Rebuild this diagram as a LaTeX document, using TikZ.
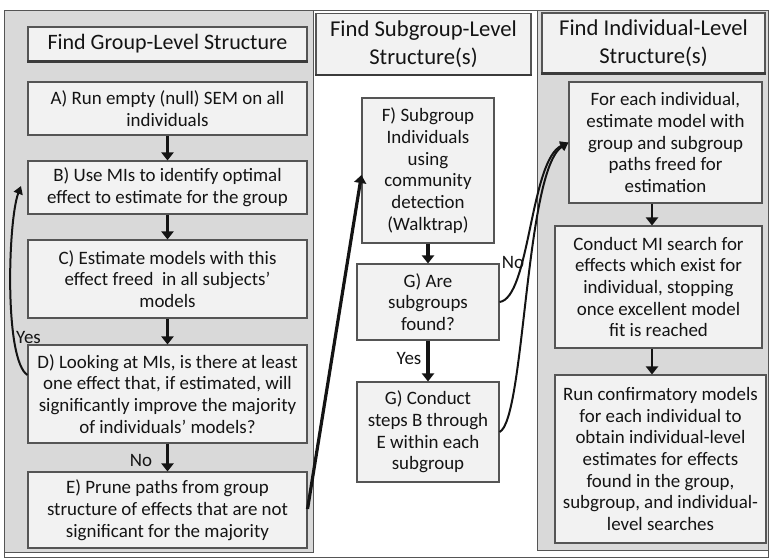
\documentclass[tikz,border=0pt]{standalone}
\usepackage{fontspec}
\setmainfont{Carlito}
\usetikzlibrary{arrows.meta}

\definecolor{panelgray}{RGB}{217,217,217}
\definecolor{boxfill}{RGB}{242,242,242}
\definecolor{boxline}{RGB}{85,85,85}
\definecolor{inkline}{RGB}{20,20,20}

\tikzset{
  stepbox/.style={draw=boxline, fill=boxfill, line width=0.8pt, align=center, inner sep=1pt,
    font=\fontsize{14.2}{16.3}\selectfont, text=inkline},
  titlebox/.style={stepbox, font=\fontsize{17}{21}\selectfont},
  flowarrow/.style={draw=inkline, line width=2.4pt, -{Triangle[width=9pt,length=6pt]}},
  loopline/.style={draw=inkline, line width=1.5pt, -{Triangle[width=7pt,length=6pt]}},
  steplabel/.style={font=\fontsize{14.2}{16}\selectfont, text=inkline, inner sep=1pt}
}

\begin{document}
\begin{tikzpicture}[x=0.75pt,y=0.75pt,yscale=-1,xscale=1]
\useasboundingbox (0,0) rectangle (769,560);

% panels
\draw[boxline, fill=panelgray, line width=0.6pt] (4,10) rectangle (313,552);
\draw[boxline, fill=panelgray, line width=0.6pt] (537,10) rectangle (768,550);
\draw[boxline, line width=0.6pt] (4,10) rectangle (768,557);

% titles
\node[titlebox, font=\fontsize{16.5}{21}\selectfont, minimum width=209.25pt, minimum height=25.5pt] (grouptitle) at (167.5,44) {Find Group-Level Structure};
\node[titlebox, minimum width=161.25pt, minimum height=46pt] (subtitle) at (423.5,44) {Find Subgroup-Level\\Structure(s)};
\node[titlebox, minimum width=167.25pt, minimum height=45pt] (indtitle) at (653.5,43) {Find Individual-Level\\Structure(s)};
\foreach \t in {grouptitle,subtitle,indtitle}
  \draw[boxline!70!black, line width=1.8pt] (\t.south west) -- (\t.south east);

% group-level steps
\node[stepbox, minimum width=209.25pt, minimum height=39.75pt] (stepA) at (167.5,108.5) {A) Run empty (null) SEM on all\\individuals};
\node[stepbox, minimum width=209.25pt, minimum height=39.75pt] (stepB) at (167.5,187.5) {B) Use MIs to identify optimal\\effect to estimate for the group};
\node[stepbox, minimum width=209.25pt, minimum height=58.5pt] (stepC) at (167.5,279) {C) Estimate models with this\\effect freed\ \ in all subjects’\\models};
\node[stepbox, minimum width=209.25pt, minimum height=73.5pt] (stepD) at (167.5,394) {D) Looking at MIs, is there at least\\one effect that, if estimated, will\\significantly improve the majority\\of individuals’ models?};
\node[stepbox, minimum width=209.25pt, minimum height=57pt] (stepE) at (167.5,510) {E) Prune paths from group\\structure of effects that are not\\significant for the majority};

% subgroup-level steps
\node[stepbox, minimum width=99pt, minimum height=108.75pt] (stepF) at (428,170.5) {F) Subgroup\\Individuals\\using\\community\\detection\\(Walktrap)};
\node[stepbox, minimum width=106.5pt, minimum height=57pt] (stepG) at (428,302) {G) Are\\subgroups\\found?};
\node[stepbox, minimum width=106.5pt, minimum height=75pt] (stepGb) at (428,432) {G) Conduct\\steps B through\\E within each\\subgroup};

% individual-level steps
\node[stepbox, minimum width=144.75pt, minimum height=90.75pt] (stepH) at (665.5,142.5) {For each individual,\\estimate model with\\group and subgroup\\paths freed for\\estimation};
\node[stepbox, minimum width=155.25pt, minimum height=91.5pt] (stepI) at (658.5,287) {Conduct MI search for\\effects which exist for\\individual, stopping\\once excellent model\\fit is reached};
\node[stepbox, minimum width=158.25pt, minimum height=126pt] (stepJ) at (660.5,459) {Run confirmatory models\\for each individual to\\obtain individual-level\\estimates for effects\\found in the group,\\subgroup, and individual-\\level searches};

% labels
\node[steplabel] (yesloop) at (28.5,337) {Yes};
\node[steplabel] (nogroup) at (141,460) {No};
\node[steplabel] (yessub) at (409,358) {Yes};
\node[steplabel] (nosub) at (513,262) {No};

% connectors
\draw[flowarrow] (stepA.south) -- (stepB.north);
\draw[flowarrow] (stepB.south) -- (stepC.north);
\draw[flowarrow] (stepC.south) -- (stepD.north);
\draw[flowarrow] (stepD.south) -- (stepE.north);
\draw[flowarrow] (stepF.south) -- (stepG.north);
\draw[flowarrow] (stepG.south) -- (stepGb.north);
\coordinate (rcol) at (652,0);
\draw[flowarrow, line width=1.8pt] (stepH.south -| rcol) -- (stepI.north -| rcol);
\draw[flowarrow, line width=1.8pt] (stepI.south -| rcol) -- (stepJ.north -| rcol);

\coordinate (eout) at (0,509);
\coordinate (fin) at (0,175);
\draw[flowarrow] (stepE.east |- eout) -- (stepF.west |- fin);

\coordinate (dout) at (0,375);
\coordinate (yesend) at (21,186);
\draw[loopline] (stepD.west |- dout) .. controls (4,360) and (8,220) .. (yesend);

\draw[loopline] (stepG.east) .. controls (530,298) and (530,160) .. (stepH.west);
\draw[loopline] (stepGb.east) .. controls (525,420) and (525,170) .. (stepH.west);

\end{tikzpicture}
\end{document}
